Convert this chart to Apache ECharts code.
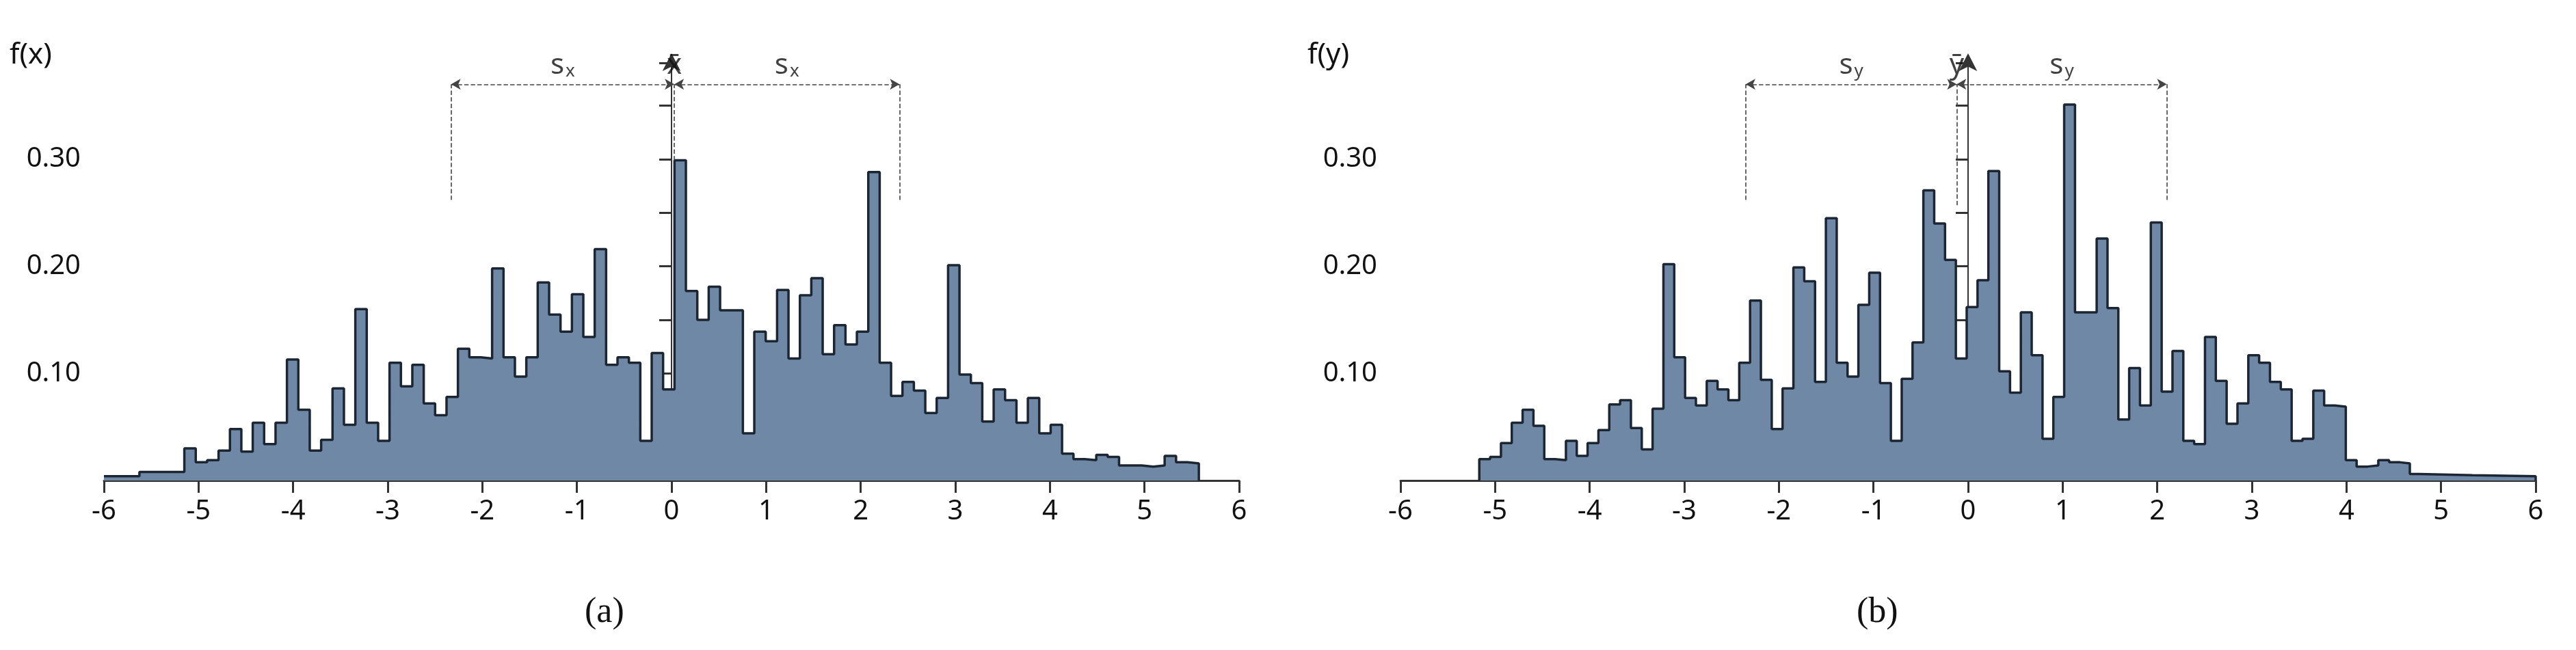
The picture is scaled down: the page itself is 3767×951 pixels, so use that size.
<!DOCTYPE html>
<html lang="en">
<head>
    <meta charset="UTF-8">
    <title>f(x) / f(y)</title>
    <script src="https://cdn.jsdelivr.net/npm/echarts@6/dist/echarts.min.js"></script>
</head>
<body style="margin:0;background:#fff">
    <div id="main" style="width:3767px;height:951px;"></div>
    <script type="text/javascript">
        var myChart = echarts.init(document.getElementById('main'));

        // panel (a): bins of width binWA starting at startA, plus two wide tail bins on the left
        let startA = -5.15, binWA = 0.1205;
        let tailA = [[-6, 0.004], [-5.625, 0.008]];
        let valsA = [0.030, 0.017, 0.019, 0.028, 0.048, 0.027, 0.054, 0.034, 0.054, 0.113,
            0.066, 0.028, 0.038, 0.086, 0.052, 0.160, 0.054, 0.037, 0.110, 0.088,
            0.108, 0.072, 0.061, 0.078, 0.123, 0.115, 0.114, 0.198, 0.115, 0.097,
            0.115, 0.185, 0.155, 0.139, 0.174, 0.134, 0.216, 0.108, 0.115, 0.110,
            0.037, 0.119, 0.085, 0.299, 0.177, 0.150, 0.181, 0.159, 0.159, 0.044,
            0.139, 0.130, 0.178, 0.114, 0.173, 0.189, 0.118, 0.145, 0.127, 0.139,
            0.288, 0.110, 0.079, 0.092, 0.084, 0.063, 0.077, 0.201, 0.099, 0.091,
            0.055, 0.085, 0.075, 0.054, 0.077, 0.044, 0.052, 0.025, 0.020, 0.019,
            0.024, 0.022, 0.014, 0.014, 0.013, 0.014, 0.023, 0.017, 0.016];
        // panel (b)
        let startB = -5.167, binWB = 0.1145;
        let valsB = [0.020, 0.022, 0.035, 0.054, 0.066, 0.051, 0.020, 0.019, 0.037, 0.023,
            0.035, 0.047, 0.071, 0.075, 0.049, 0.029, 0.067, 0.202, 0.115, 0.077,
            0.070, 0.093, 0.085, 0.075, 0.110, 0.168, 0.094, 0.048, 0.086, 0.199,
            0.186, 0.092, 0.245, 0.110, 0.097, 0.164, 0.194, 0.091, 0.037, 0.095,
            0.129, 0.271, 0.240, 0.206, 0.114, 0.162, 0.187, 0.289, 0.102, 0.082,
            0.157, 0.117, 0.039, 0.078, 0.351, 0.157, 0.157, 0.226, 0.161, 0.057,
            0.105, 0.070, 0.241, 0.083, 0.121, 0.037, 0.034, 0.134, 0.093, 0.053,
            0.072, 0.117, 0.110, 0.092, 0.085, 0.037, 0.039, 0.084, 0.070, 0.069,
            0.019, 0.013, 0.014, 0.019, 0.017, 0.016];
        let tailB = [[4.67, 0.006], [4.77, 0.005], [5.33, 0.004]];

        // annotation: [left end, mean, right end], bracket height, lower end of side lines
        let brA = [-2.33, 0.03, 2.41], brB = [-2.35, -0.12, 2.10];
        let brY = 0.37, brLow = 0.262;
        let topA = 0.299, topB = 0.257;

        function steps(start, w, vals, before, after) {
            let pts = [];
            if (!before.length) pts.push([start, 0]);
            before.forEach(t => pts.push([t[0], t[1]]));
            vals.forEach((v, i) => pts.push([+(start + i * w).toFixed(4), v]));
            let end = start + vals.length * w;
            after.forEach(t => pts.push([t[0], t[1]]));
            pts.push([after.length ? 6 : +end.toFixed(4), 0]);
            return pts;
        }

        const font = 'Noto Sans';
        const ink = '#1c2633';

        function grid(left) {
            return {left: left, width: 1660, top: 92, height: 611};
        }
        function xAx(i) {
            return {
                type: 'value', gridIndex: i, min: -6, max: 6, interval: 1,
                axisLine: {onZero: false, lineStyle: {color: '#333', width: 3}},
                axisTick: {length: 18, lineStyle: {width: 3, color: '#333'}},
                axisLabel: {fontSize: 40, fontFamily: font, color: '#111', margin: 26},
                splitLine: {show: false}
            };
        }
        function yAx(i) {
            return {
                type: 'value', gridIndex: i, min: 0, max: 0.39, interval: 0.05,
                axisLine: {show: true, symbol: ['none', 'arrow'], symbolSize: [20, 26], symbolOffset: [0, 14],
                    lineStyle: {color: '#333', width: 2}},
                axisTick: {show: true, inside: false, length: 18, lineStyle: {width: 3, color: '#333'}},
                axisLabel: {fontSize: 40, fontFamily: font, color: '#111', margin: 34,
                    formatter: v => (Math.abs(v * 10 - Math.round(v * 10)) < 1e-6 && v > 0) ? v.toFixed(2) : ''},
                splitLine: {show: false}
            };
        }
        function hist(i, pts) {
            return {
                type: 'line', xAxisIndex: i, yAxisIndex: i, step: 'end', data: pts,
                symbol: 'none', lineStyle: {color: ink, width: 3.5},
                areaStyle: {color: '#6e88a6', opacity: 1}, z: 2
            };
        }
        function bracket(i, b, meanTop, sub, bar) {
            const thin = {color: '#444', width: 1.6};
            const seg = (a, c) => [{coord: a, symbol: 'none'}, {coord: c, symbol: 'none'}];
            return [{
                type: 'line', xAxisIndex: i, yAxisIndex: i, data: [], silent: true,
                markLine: {
                    silent: true, animation: false, label: {show: false}, lineStyle: thin,
                    symbol: ['arrow', 'arrow'], symbolSize: [12, 14],
                    data: [
                        [{coord: [b[0], brY]}, {coord: [b[1], brY]}],
                        [{coord: [b[1], brY]}, {coord: [b[2], brY]}],
                        seg([b[0], brLow], [b[0], brY]),
                        seg([b[2], brLow], [b[2], brY]),
                        seg([b[1], meanTop], [b[1], brY])
                    ]
                }
            }, {
                type: 'scatter', xAxisIndex: i, yAxisIndex: i, symbolSize: 0, silent: true,
                data: [[(b[0] + b[1]) / 2, brY], [(b[1] + b[2]) / 2, brY], [b[1], brY]],
                label: {
                    show: true, position: 'top', distance: 6, fontFamily: font, color: '#111',
                    formatter: p => p.dataIndex === 2 ? '{m|' + bar + '}' : '{s|s}{d|' + sub + '}',
                    rich: {s: {fontSize: 42, fontFamily: font}, d: {fontSize: 26, fontFamily: font, verticalAlign: 'bottom', padding: [14, 0, 0, 2]},
                        m: {fontSize: 42, fontFamily: font}}
                }
            }];
        }

        let option = {
            animation: false,
            grid: [grid(152), grid(2048)],
            xAxis: [xAx(0), xAx(1)],
            yAxis: [yAx(0), yAx(1)],
            series: [
                hist(0, steps(startA, binWA, valsA, tailA, [])),
                hist(1, steps(startB, binWB, valsB, [], tailB))
            ].concat(bracket(0, brA, topA, 'x', 'x\u0304'), bracket(1, brB, topB, 'y', 'y\u0304')),
            graphic: [
                {type: 'text', left: 14, top: 60, style: {text: 'f(x)', font: '42px Noto Sans', fill: '#111'}},
                {type: 'text', left: 1912, top: 60, style: {text: 'f(y)', font: '42px Noto Sans', fill: '#111'}},
                {type: 'text', left: 855, top: 870, style: {text: '(a)', font: '52px Liberation Serif', fill: '#111', rich: {}}},
                {type: 'text', left: 2715, top: 870, style: {text: '(b)', font: '52px Liberation Serif', fill: '#111'}}
            ]
        };
        myChart.setOption(option);
    </script>
</body>
</html>
